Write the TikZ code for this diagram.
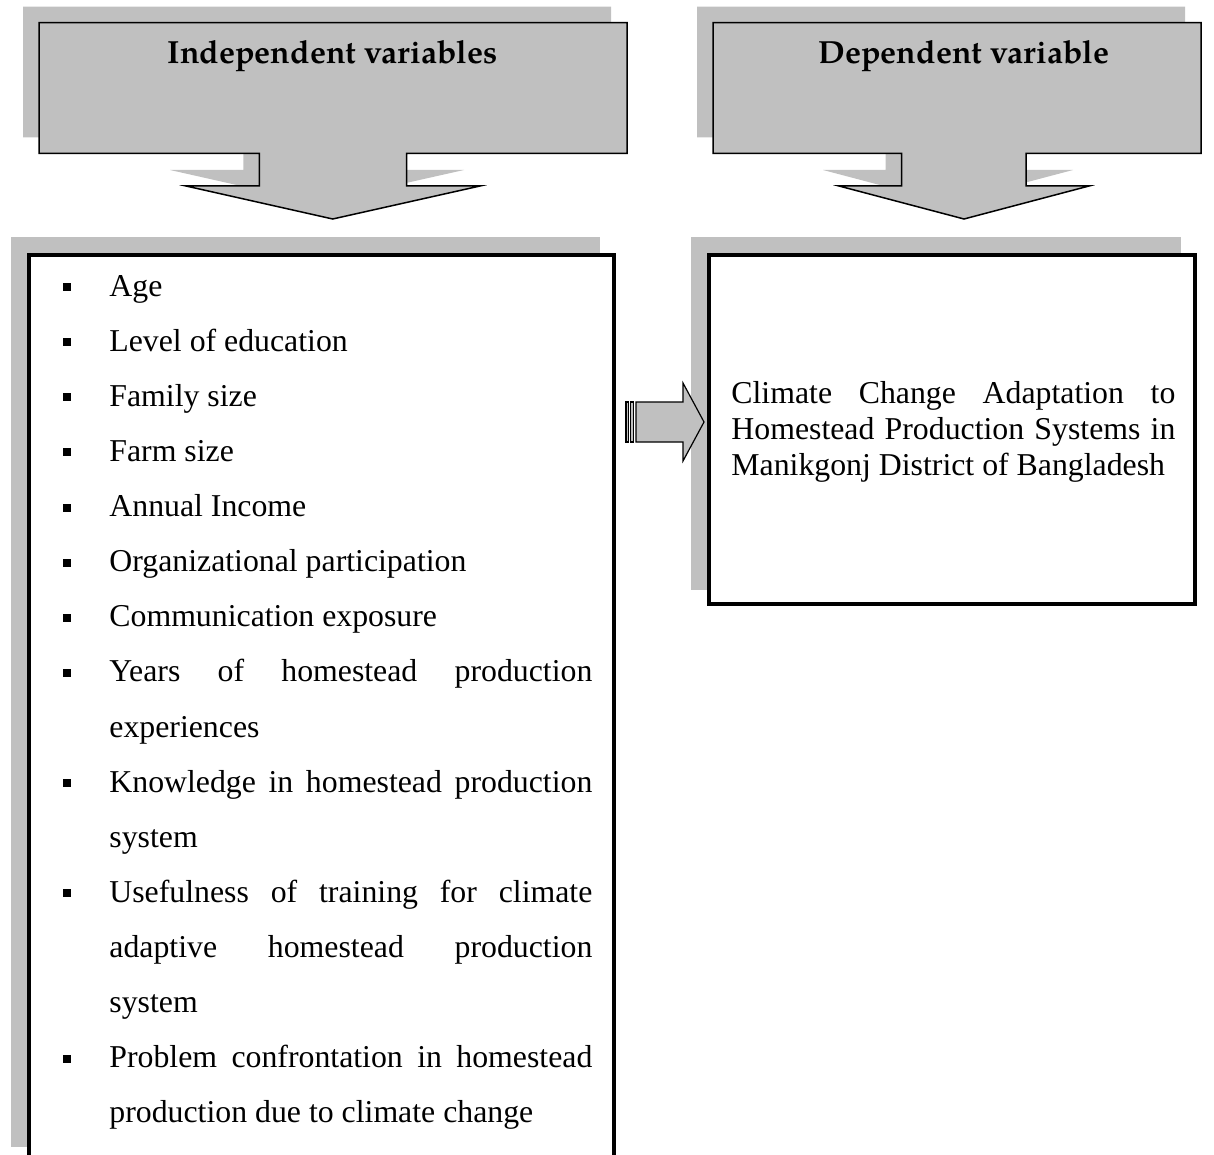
\documentclass[tikz,border=0pt]{standalone}
\usepackage{fontspec}
\setmainfont{Liberation Serif}
\newfontfamily\pala{TeX Gyre Pagella}
\definecolor{shgray}{HTML}{C0C0C0}
\begin{document}
\begin{tikzpicture}[x=0.5pt,y=-0.5pt,
  shadowfill/.style={fill=shgray, draw=none},
  calloutshape/.style={fill=shgray, draw=black, line width=0.75pt, line join=miter},
  framebox/.style={draw=black, line width=2pt, fill=white, inner sep=0pt, outer sep=0pt},
  shadowbox/.style={fill=shgray, draw=none, inner sep=0pt, outer sep=0pt},
  itemtext/.style={anchor=base west, inner sep=0pt, text width=241.5pt, align=justify,
     font=\fontsize{15.9}{27.565}\selectfont},
  bul/.style={fill=black, inner sep=0pt, outer sep=0pt, minimum size=4pt},
  titletext/.style={anchor=base, inner sep=0pt, font=\pala\bfseries\fontsize{16}{19}\selectfont},
  blockarrow/.style={fill=shgray, draw=black, line width=0.6pt, line join=miter}]
\useasboundingbox (0,0) rectangle (1214,1155);
\clip (0,0) rectangle (1214,1155);

% ---- left callout ----
\begin{scope}[shift={(-16,-16)}]
\fill[shadowfill] (39,22.7) -- (627,22.7) -- (627,153.3) -- (406.7,153.3) -- (406.7,186) -- (480,186)
  -- (332.7,219) -- (186,186) -- (259.3,186) -- (259.3,153.3) -- (39,153.3) -- cycle;
\end{scope}
\draw[calloutshape] (39,22.7) -- (627,22.7) -- (627,153.3) -- (406.7,153.3) -- (406.7,186) -- (480,186)
  -- (332.7,219) -- (186,186) -- (259.3,186) -- (259.3,153.3) -- (39,153.3) -- cycle;
\node[titletext] (indep) at (332.7,64) {Independent variables};

% ---- right callout ----
\begin{scope}[shift={(-16,-16)}]
\fill[shadowfill] (713,22.7) -- (1201,22.7) -- (1201,153.3) -- (1026,153.3) -- (1026,186) -- (1089,186)
  -- (964,219) -- (839,186) -- (901.7,186) -- (901.7,153.3) -- (713,153.3) -- cycle;
\end{scope}
\draw[calloutshape] (713,22.7) -- (1201,22.7) -- (1201,153.3) -- (1026,153.3) -- (1026,186) -- (1089,186)
  -- (964,219) -- (839,186) -- (901.7,186) -- (901.7,153.3) -- (713,153.3) -- cycle;
\node[titletext] (dep) at (964,64) {Dependent variable};

% ---- left box ----
\node[shadowbox, anchor=north west, minimum width=294.75pt, minimum height=455pt] (lshadow) at (10.5,237) {};
\node[framebox, anchor=north west, minimum width=292.75pt, minimum height=453pt] (lbox) at (28.5,255) {};

% ---- right box ----
\node[shadowbox, anchor=north west, minimum width=245pt, minimum height=176.5pt] (rshadow) at (691,237) {};
\node[framebox, anchor=north west, minimum width=243pt, minimum height=174.5pt] (rbox) at (709,255) {};

% ---- list ----
\node[bul] (b1) at (67,287) {};
\node[itemtext] (i1) at (109,296) {Age};
\node[bul] (b2) at (67,342.13) {};
\node[itemtext] (i2) at (109,351.13) {Level of education};
\node[bul] (b3) at (67,397.26) {};
\node[itemtext] (i3) at (109,406.26) {Family size};
\node[bul] (b4) at (67,452.39) {};
\node[itemtext] (i4) at (109,461.39) {Farm size};
\node[bul] (b5) at (67,507.52) {};
\node[itemtext] (i5) at (109,516.52) {Annual Income};
\node[bul] (b6) at (67,562.65) {};
\node[itemtext] (i6) at (109,571.65) {Organizational participation};
\node[bul] (b7) at (67,617.78) {};
\node[itemtext] (i7) at (109,626.78) {Communication exposure};
\node[bul] (b8) at (67,672.91) {};
\node[itemtext] (i8) at (109,681.91) {Years of homestead production\linebreak experiences};
\node[bul] (b9) at (67,783.17) {};
\node[itemtext] (i9) at (109,792.17) {Knowledge in homestead production\linebreak system};
\node[bul] (b10) at (67,893.43) {};
\node[itemtext] (i10) at (109,902.43) {Usefulness of training for climate\linebreak adaptive homestead production\linebreak system};
\node[bul] (b11) at (67,1058.82) {};
\node[itemtext] (i11) at (109,1067.82) {Problem confrontation in homestead\linebreak production due to climate change};

% ---- right text ----
\node[anchor=base west, inner sep=0pt, text width=222pt, align=justify,
  font=\fontsize{15.9}{18}\selectfont] (dtext) at (731,403)
  {Climate Change Adaptation to\linebreak Homestead Production Systems in\linebreak Manikgonj District of Bangladesh};

% ---- middle striped block arrow ----
\draw[blockarrow] (626,402) rectangle (628.5,442);
\draw[blockarrow] (630.5,402) rectangle (633.5,442);
\draw[blockarrow] (636,402) -- (683,402) -- (683,383) -- (704,422) -- (683,461) -- (683,442) -- (636,442) -- cycle;
\end{tikzpicture}
\end{document}
